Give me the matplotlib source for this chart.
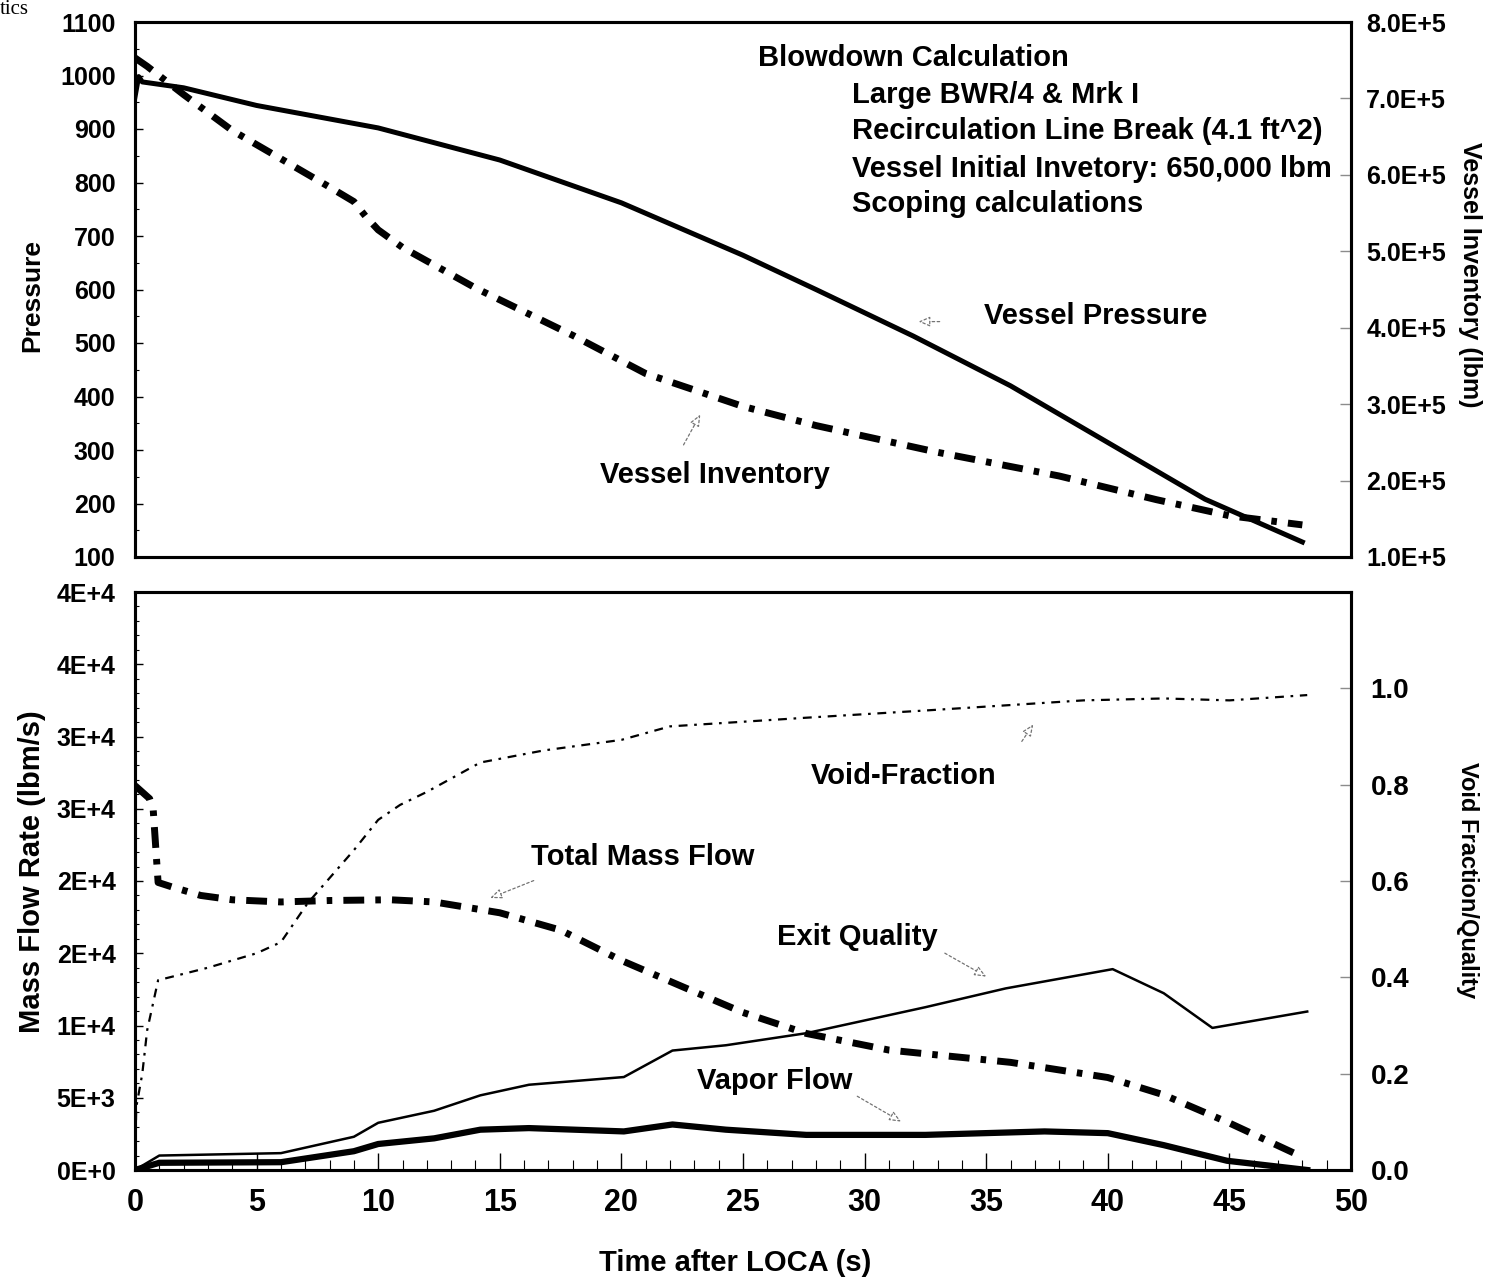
import matplotlib.pyplot as plt
import numpy as np
from matplotlib.ticker import MultipleLocator

plt.rcParams['font.family'] = ['Liberation Sans', 'DejaVu Sans']
plt.rcParams['font.weight'] = 'bold'

# top panel: vessel pressure and vessel inventory
t_press = [0, 0.15, 0.3, 2, 5, 10, 15, 20, 25, 28, 32, 36, 40, 44, 48]
pressure = [960, 998, 988, 977, 944, 902, 842, 762, 664, 600, 513, 420, 314, 208, 128]

t_inv = [0, 0.5, 2, 4, 6, 8, 9, 9.5, 10, 11, 14, 18, 21, 25, 28, 33, 38, 42, 45, 48]
inventory = [753e3, 742e3, 705e3, 658e3, 621e3, 584e3, 565e3, 545e3, 528e3, 505e3,
             452e3, 390e3, 340e3, 297e3, 272e3, 237e3, 206e3, 175e3, 154e3, 142e3]

# bottom panel: flows (lbm/s) and void fraction / quality
t_total = [0, 0.6, 0.75, 0.95, 1.5, 2.7, 4, 6, 8, 10.5, 12.3, 15, 17.5, 20, 22.7, 25,
           27.6, 31, 36, 40, 42.3, 45, 48]
total_flow = [26600, 25700, 24900, 19900, 19600, 19000, 18700, 18550, 18650, 18700, 18550,
              17800, 16600, 14500, 12550, 10900, 9450, 8300, 7450, 6400, 5200, 3250, 900]

t_vap = [0, 1, 6, 9, 10, 12.3, 14.2, 16.2, 20.1, 22.1, 24.3, 27.6, 32.5, 37.4, 40, 42.3, 44.9, 48.2]
vapor_flow = [0, 500, 540, 1300, 1800, 2190, 2790, 2900, 2670, 3150, 2790, 2430, 2430, 2670,
              2550, 1720, 640, 0]

t_void = [0, 0.05, 0.3, 0.5, 0.95, 3, 5, 6, 7.1, 9, 10, 10.9, 12, 14.2, 16.8, 20, 22, 27.6,
          32.5, 39, 42.3, 45, 48.2]
void_frac = [0, 0.13, 0.20, 0.29, 0.394, 0.42, 0.45, 0.473, 0.554, 0.664, 0.727, 0.758, 0.785,
             0.846, 0.871, 0.893, 0.921, 0.939, 0.954, 0.975, 0.979, 0.975, 0.986]

t_qual = [0, 1, 6, 9, 10, 12.3, 14.2, 16.2, 20.1, 22.1, 24.3, 27.6, 32.5, 35.8, 40.2, 42.3, 44.3, 48.2]
exit_quality = [0, 0.03, 0.035, 0.069, 0.098, 0.123, 0.155, 0.177, 0.193, 0.248, 0.259, 0.284,
                0.338, 0.377, 0.417, 0.367, 0.295, 0.329]

press_ticks = list(range(100, 1101, 100))
inv_ticks = [1e5, 2e5, 3e5, 4e5, 5e5, 6e5, 7e5, 8e5]
flow_ticks = list(range(0, 40001, 5000))
flow_labels = ['0E+0', '5E+3', '1E+4', '2E+4', '2E+4', '3E+4', '3E+4', '4E+4', '4E+4']
void_ticks = [0.0, 0.2, 0.4, 0.6, 0.8, 1.0]
time_ticks = list(range(0, 51, 5))

W, H = 1504, 1281
fig = plt.figure(figsize=(W / 100, H / 100), dpi=100)


def fx(x):
    return x / W


def fy(y):
    return 1 - y / H


ax1 = fig.add_axes([fx(135), fy(557), fx(1351) - fx(135), fy(22) - fy(557)])
ax1r = ax1.twinx()
ax2 = fig.add_axes([fx(135), fy(1170), fx(1351) - fx(135), fy(592) - fy(1170)])
ax2r = ax2.twinx()

# top panel lines
ax1.plot(t_press, pressure, color='black', lw=3.6, solid_joinstyle='round')
ax1r.plot(t_inv, inventory, color='black', lw=5, dashes=(3, 1.6, 0.8, 1.6))

# bottom panel lines
ax2.plot(t_total, total_flow, color='black', lw=5, dashes=(3, 1.6, 0.8, 1.6))
ax2.plot(t_vap, vapor_flow, color='black', lw=4.5, solid_joinstyle='round')
ax2r.plot(t_void, void_frac, color='black', lw=1.6, dashes=(4, 3, 1.2, 3))
ax2r.plot(t_qual, exit_quality, color='black', lw=1.8)

for a in (ax1, ax1r, ax2, ax2r):
    a.set_xlim(0, 50)
    for s in a.spines.values():
        s.set_linewidth(2.2)

ax1.set_ylim(100, 1100)
ax1.set_yticks(press_ticks)
ax1.yaxis.set_minor_locator(MultipleLocator(50))
ax1.tick_params(axis='y', direction='in', length=6, width=1, labelsize=18, pad=14)
ax1.tick_params(axis='y', which='minor', direction='in', length=3, width=0.8)
ax1.set_xticks([])

ax1r.set_ylim(1e5, 8e5)
ax1r.set_yticks(inv_ticks)
ax1r.set_yticklabels([f'{v / 1e5:.1f}E+5' for v in inv_ticks])
ax1r.tick_params(axis='y', direction='in', length=8, width=1, color='0.55', labelsize=18, pad=11)

ax2.set_ylim(0, 40000)
ax2.set_yticks(flow_ticks)
ax2.set_yticklabels(flow_labels)
ax2.yaxis.set_minor_locator(MultipleLocator(1000))
ax2.tick_params(axis='y', direction='in', length=6, width=1, labelsize=18, pad=14)
ax2.tick_params(axis='y', which='minor', direction='in', length=3, width=0.8)
ax2.set_xticks(time_ticks)
ax2.xaxis.set_minor_locator(MultipleLocator(1))
ax2.tick_params(axis='x', direction='in', length=12, width=1, labelsize=22, pad=13)
ax2.tick_params(axis='x', which='minor', direction='in', length=7, width=0.8)

ax2r.set_ylim(0, 1.2)
ax2r.set_yticks(void_ticks)
ax2r.set_yticklabels([f'{v:.1f}' for v in void_ticks])
ax2r.tick_params(axis='y', direction='in', length=8, width=1, color='0.55', labelsize=20, pad=14)

for a in (ax1, ax1r, ax2, ax2r):
    for lab in a.get_yticklabels() + a.get_xticklabels():
        lab.set_fontweight('bold')

# axis titles
fig.text(fx(32), fy(295), 'Pressure', rotation=90, ha='center', va='center', fontsize=19)
fig.text(fx(32), fy(872), 'Mass Flow Rate (lbm/s)', rotation=90, ha='center', va='center', fontsize=21)
fig.text(fx(1470), fy(275), 'Vessel Inventory (lbm)', rotation=270, ha='center', va='center', fontsize=18)
fig.text(fx(1468), fy(880), 'Void Fraction/Quality', rotation=270, ha='center', va='center', fontsize=17)
fig.text(fx(735), fy(1263), 'Time after LOCA (s)', ha='center', va='center', fontsize=21)
fig.text(0.0, 1.0, 'tics', family=['Liberation Serif'], fontweight='normal',
         ha='left', va='top', fontsize=15)

# top annotations
ax1.text(25.6, 1033, 'Blowdown Calculation', fontsize=21, va='center')
notes = ['Large BWR/4 & Mrk I', 'Recirculation Line Break (4.1 ft^2)',
         'Vessel Initial Invetory: 650,000 lbm', 'Scoping calculations']
for note, p in zip(notes, [964, 896, 826, 759]):
    ax1.text(29.5, p, note, fontsize=21, va='center')

arrow = dict(arrowstyle='-|>,head_length=0.7,head_width=0.3', fc='white', ec='0.45',
             lw=0.9, linestyle=(0, (2, 2)))
ax1.text(34.9, 550, 'Vessel Pressure', fontsize=21, va='center')
ax1.annotate('', xy=(32.1, 540), xytext=(33.2, 540), arrowprops=arrow)
ax1.text(19.1, 253, 'Vessel Inventory', fontsize=21, va='center')
ax1.annotate('', xy=(23.3, 371), xytext=(22.5, 305), arrowprops=arrow)

# bottom annotations
ax2.text(27.8, 27260, 'Void-Fraction', fontsize=21, va='center')
ax2.annotate('', xy=(37.0, 31000), xytext=(36.4, 29500), arrowprops=arrow)
ax2.text(16.3, 21660, 'Total Mass Flow', fontsize=21, va='center')
ax2.annotate('', xy=(14.5, 18750), xytext=(16.5, 20100), arrowprops=arrow)
ax2.text(26.4, 16120, 'Exit Quality', fontsize=21, va='center')
ax2.annotate('', xy=(35.1, 13290), xytext=(33.2, 15100), arrowprops=arrow)
ax2.text(23.1, 6160, 'Vapor Flow', fontsize=21, va='center')
ax2.annotate('', xy=(31.6, 3250), xytext=(29.6, 5200), arrowprops=arrow)

fig.savefig('out.png', dpi=100)
